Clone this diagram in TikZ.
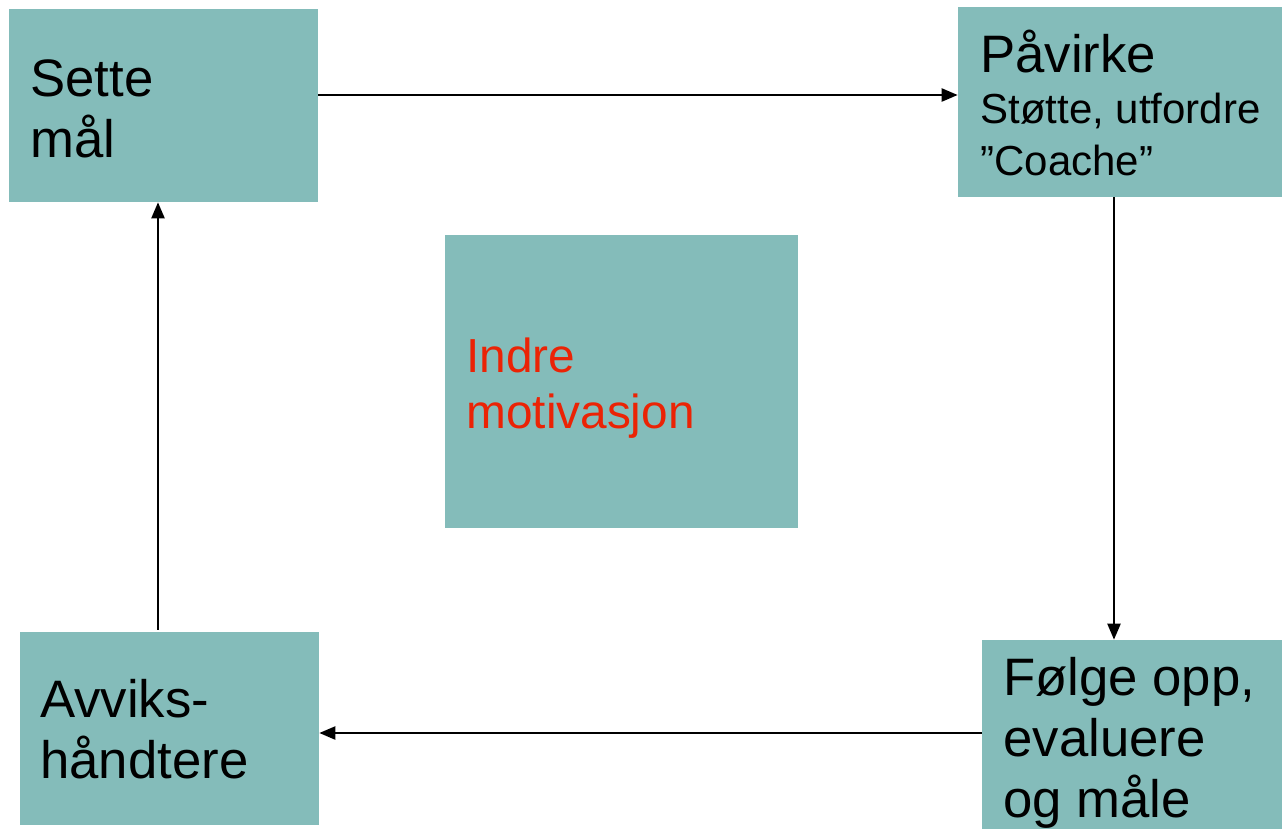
\documentclass[tikz,border=0pt]{standalone}
\usepackage{fontspec}
\setmainfont{Liberation Sans}
\usetikzlibrary{arrows.meta, positioning, calc}
\definecolor{boxteal}{RGB}{132,188,186}
\definecolor{motivred}{RGB}{235,35,5}
\newcommand{\bigtxt}{\fontsize{30}{34.7}\selectfont}
\newcommand{\midtxt}{\fontsize{27.2}{31.7}\selectfont}
\newcommand{\subtxt}{\fontsize{23.9}{29.6}\selectfont}

\begin{document}
\begin{tikzpicture}[x=0.02cm, y=-0.02cm,
    box/.style={fill=boxteal, draw=none, inner sep=0pt},
    lbl/.style={anchor=base west, align=left, inner sep=0pt, font=\bigtxt},
    arr/.style={-{Triangle[length=0.32cm, width=0.26cm]}, line width=1.3pt}]
    \useasboundingbox (0,0) rectangle (1282,829);
    % Draw boxes
    \node[box, minimum width=6.18cm, minimum height=3.86cm] (sette) at (163.5,105.5) {};
    \node[box, minimum width=6.48cm, minimum height=3.80cm] (pavirke) at (1120,102) {};
    \node[box, minimum width=7.06cm, minimum height=5.86cm] (indre) at (621.5,381.5) {};
    \node[box, minimum width=5.98cm, minimum height=3.86cm] (avvik) at (169.5,728.5) {};
    \node[box, minimum width=6.00cm, minimum height=3.78cm] (folge) at (1132,734.5) {};
    % Texts (base = baseline of the last line)
    \node[lbl] (settetxt) at (30,157) {Sette\\mål};
    \node[lbl] (pavtitle) at (980,72) {Påvirke};
    \node[lbl, font=\subtxt] (pavsub) at (980,175) {Støtte, utfordre\\”Coache”};
    \node[lbl, font=\midtxt, text=motivred] (indretxt) at (466,428) {Indre\\motivasjon};
    \node[lbl] (avviktxt) at (40,778) {Avviks-\\håndtere};
    \node[lbl] (folgetxt) at (1003,817) {Følge opp,\\evaluere\\og måle};
    % Arrows round the loop
    \draw[arr] ([yshift=0.21cm]sette.east) -- ([yshift=0.21cm]sette.east -| pavirke.west);
    \draw[arr] ([xshift=-0.12cm]pavirke.south) -- ([xshift=-0.12cm]pavirke.south |- folge.north);
    \draw[arr] ([yshift=0.03cm]folge.west) -- ([yshift=0.03cm]folge.west -| avvik.east);
    \draw[arr] ([xshift=-0.23cm, yshift=0.04cm]avvik.north) -- ([xshift=-0.23cm]avvik.north |- sette.south);
\end{tikzpicture}
\end{document}
